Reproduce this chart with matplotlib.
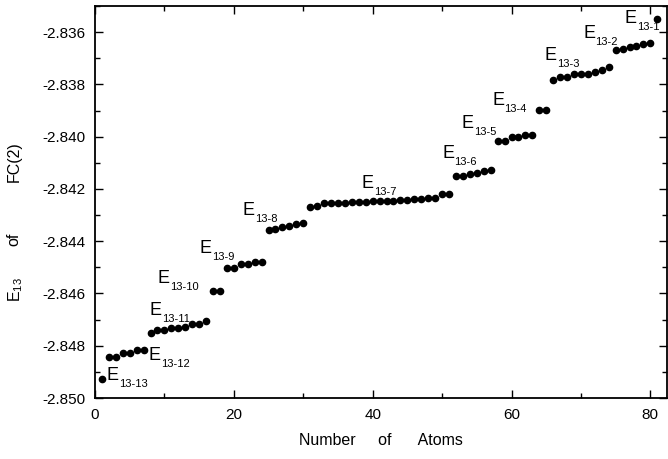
import numpy as np
import matplotlib.pyplot as plt
from matplotlib.ticker import MultipleLocator, FormatStrFormatter

plt.rcParams['font.family'] = ['Liberation Sans', 'DejaVu Sans']
plt.rcParams['axes.unicode_minus'] = False
plt.rcParams['mathtext.fontset'] = 'custom'
plt.rcParams['mathtext.rm'] = 'Liberation Sans'

# number of atoms (1..81) and energy E13 of FC(2)
atoms = np.arange(1, 82)
energy = [
    -2.84928,
    -2.84842, -2.84842, -2.84829, -2.84829, -2.84816, -2.84816,
    -2.84752, -2.84740, -2.84740, -2.84733, -2.84733, -2.84727, -2.84717, -2.84717, -2.84707,
    -2.84590, -2.84590,
    -2.84504, -2.84504, -2.84489, -2.84489, -2.84479, -2.84479,
    -2.84358, -2.84355, -2.84345, -2.84342, -2.84334, -2.84330,
    -2.84271, -2.84266, -2.84255, -2.84254, -2.84253, -2.84252, -2.84251, -2.84250, -2.84249,
    -2.84248, -2.84247, -2.84246, -2.84245, -2.84244, -2.84242, -2.84240, -2.84238, -2.84236,
    -2.84234, -2.84220, -2.84218,
    -2.84151, -2.84149, -2.84141, -2.84138, -2.84132, -2.84128,
    -2.84017, -2.84015, -2.84003, -2.84000, -2.83994, -2.83992,
    -2.83898, -2.83898,
    -2.83784, -2.83773, -2.83772, -2.83762, -2.83761, -2.83760, -2.83752, -2.83746, -2.83735,
    -2.83669, -2.83666, -2.83656, -2.83653, -2.83645, -2.83640,
    -2.83548,
]

# group labels E_{13-k} and where they sit
group_names = ['13-13', '13-12', '13-11', '13-10', '13-9', '13-8', '13-7',
               '13-6', '13-5', '13-4', '13-3', '13-2', '13-1']
label_x = [1.6, 7.7, 7.8, 9.0, 15.0, 21.3, 38.4, 50.0, 52.8, 57.2, 64.8, 70.3, 76.3]
label_y = [-2.84931, -2.84855, -2.84683, -2.84561, -2.84445, -2.84300, -2.84198,
           -2.84083, -2.83968, -2.83879, -2.83707, -2.83622, -2.83564]

fig = plt.figure(figsize=(6.68, 4.59), dpi=100)
ax = fig.add_axes([95 / 668, 1 - 398 / 459, (667 - 95) / 668, (398 - 6) / 459])

ax.plot(atoms, energy, 'o', color='black', markersize=4.5, linestyle='none')

for name, lx, ly in zip(group_names, label_x, label_y):
    ax.text(lx, ly, 'E', fontsize=13, ha='left', va='baseline')
    ax.annotate(name, (lx, ly), xytext=(9, -5), textcoords='offset points',
                fontsize=8, ha='left', va='baseline')

ax.set_xlim(0, 82.4)
ax.set_ylim(-2.850, -2.835)
ax.xaxis.set_major_locator(MultipleLocator(20))
ax.xaxis.set_minor_locator(MultipleLocator(10))
ax.yaxis.set_major_locator(MultipleLocator(0.002))
ax.yaxis.set_minor_locator(MultipleLocator(0.001))
ax.yaxis.set_major_formatter(FormatStrFormatter('%.3f'))
ax.tick_params(which='both', direction='in', top=True, right=True, width=1)
ax.tick_params(which='major', length=6, labelsize=11, pad=7)
ax.tick_params(which='minor', length=3.5)
for sp in ax.spines.values():
    sp.set_linewidth(1.3)

ax.set_xlabel('Number     of      Atoms', fontsize=11.5, labelpad=8)

# y label drawn in three pieces, spaced like the original
fig.text(14 / 668, 1 - 162 / 459, 'FC(2)', rotation=90, fontsize=11.5, ha='center', va='center')
fig.text(14 / 668, 1 - 239 / 459, 'of', rotation=90, fontsize=11.5, ha='center', va='center')
fig.text(16 / 668, 1 - 290 / 459, 'E$_{13}$', rotation=90, fontsize=11.5, ha='center', va='center')

plt.savefig('out.png', dpi=100)
